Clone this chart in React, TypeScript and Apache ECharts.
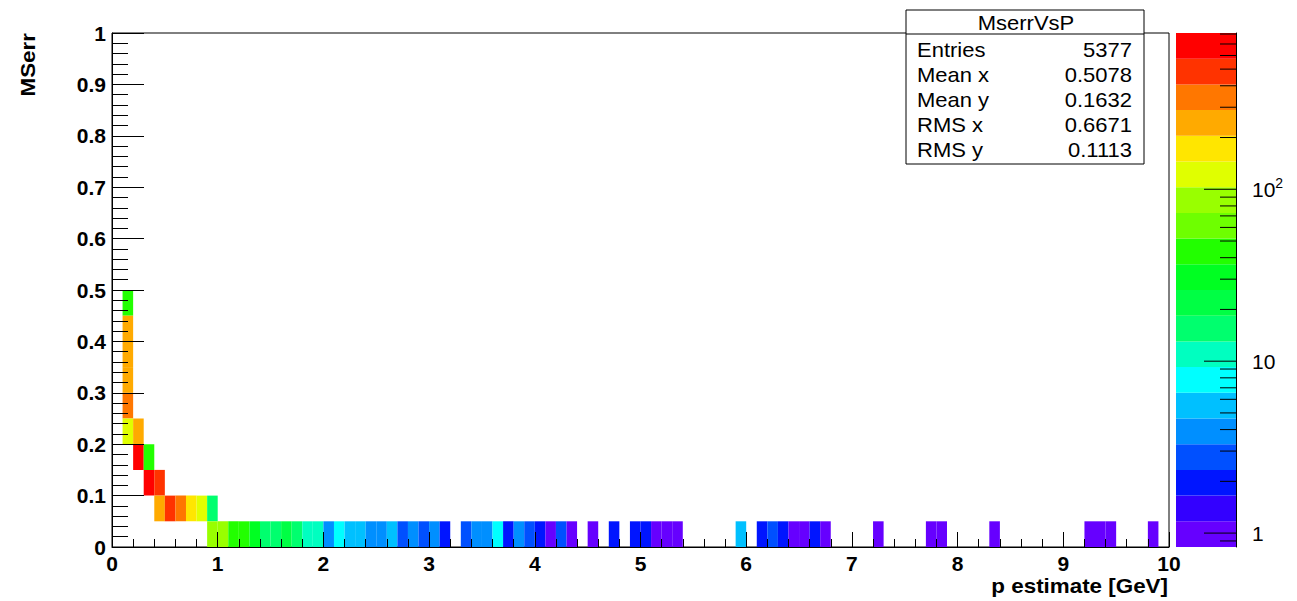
import React, { useEffect, useRef } from "react";
import * as echarts from "echarts";

// ---- Data (2D histogram MserrVsP: bin lower edges and bin contents) ----
const X_BIN_WIDTH = 0.1;
const Y_BIN_HEIGHT = 0.05;
const cellX: number[] = [
  0.1, 0.1, 0.1, 0.1, 0.1, 0.1, 0.2, 0.2, 0.3, 0.3, 0.4, 0.4, 0.5, 0.6, 0.7, 0.8, 0.9,
  0.9, 1.0, 1.1, 1.2, 1.3, 1.4, 1.5, 1.6, 1.7, 1.8, 1.9, 2.0, 2.1, 2.2, 2.3, 2.4, 2.5,
  2.6, 2.7, 2.8, 2.9, 3.0, 3.1, 3.3, 3.4, 3.5, 3.6, 3.7, 3.8, 3.9, 4.0, 4.1, 4.2, 4.3,
  4.5, 4.7, 4.9, 5.0, 5.1, 5.2, 5.3, 5.9, 6.1, 6.2, 6.3, 6.4, 6.5, 6.6, 6.7, 7.2, 7.7,
  7.8, 8.3, 9.2, 9.3, 9.4, 9.8,
];
const cellY: number[] = [
  0.45, 0.4, 0.35, 0.3, 0.25, 0.2, 0.2, 0.15, 0.15, 0.1, 0.1, 0.05, 0.05, 0.05, 0.05, 0.05, 0.05,
  0, 0, 0, 0, 0, 0, 0, 0, 0, 0, 0, 0, 0, 0, 0, 0, 0,
  0, 0, 0, 0, 0, 0, 0, 0, 0, 0, 0, 0, 0, 0, 0, 0, 0,
  0, 0, 0, 0, 0, 0, 0, 0, 0, 0, 0, 0, 0, 0, 0, 0, 0,
  0, 0, 0, 0, 0, 0,
];
const cellCount: number[] = [
  42, 260, 250, 245, 310, 120, 250, 720, 45, 780, 520, 250, 500, 370, 170, 118, 15,
  85, 80, 45, 40, 30, 16, 15, 20, 14, 11, 10, 4, 7, 5, 5, 4, 4,
  5, 3, 4, 3, 4, 2, 3, 4, 4, 7, 2, 4, 3, 2, 1, 3, 1,
  1, 2, 2, 2, 1, 1, 1, 5, 2, 3, 2, 1, 1, 2, 1, 1, 1,
  1, 1, 1, 1, 1, 1,
];

// z (colour) axis range, log scale
const Z_MIN = 0.83;
const Z_MAX = 811;
const Z_LOG_MIN = Math.log10(Z_MIN);
const Z_LOG_MAX = Math.log10(Z_MAX);
const Z_MAJOR = [0, 1, 2];
const Z_MINOR_VALUES = [0.9, 2, 3, 4, 5, 6, 7, 8, 9, 20, 30, 40, 50, 60, 70, 80, 90, 200, 300, 400, 500, 600, 700, 800];

const PALETTE = [
  "#6600ff", "#3300ff", "#0015ff", "#0050ff", "#008fff", "#00c0ff", "#00ffff",
  "#00ffc0", "#00ff6e", "#00ff44", "#00ff22", "#22ff00", "#6eff00", "#99ff00",
  "#e0ff00", "#ffe600", "#ffaa00", "#ff7700", "#ff3300", "#ff0000",
];

const STAT_TITLE = "MserrVsP";
const statLabels = ["Entries", "Mean x", "Mean y", "RMS x", "RMS y"];
const statValues = ["5377", "0.5078", "0.1632", "0.6671", "0.1113"];

const X_TITLE = "p estimate [GeV]";
const Y_TITLE = "MSerr";

const FONT = "Liberation Sans";

function bandOf(c: number): number {
  const t = (Math.log10(c) - Z_LOG_MIN) / (Z_LOG_MAX - Z_LOG_MIN);
  return Math.max(0, Math.min(PALETTE.length - 1, Math.floor(t * PALETTE.length)));
}

export default function App() {
  const ref = useRef<HTMLDivElement>(null);

  useEffect(() => {
    document.body.style.margin = "0";
    if (!ref.current) return;
    const chart = echarts.init(ref.current, null, { renderer: "svg" });

    const cells = cellX.map((x, i) => [x, cellY[i], cellCount[i]]);
    const step = (Z_LOG_MAX - Z_LOG_MIN) / PALETTE.length;
    const bands = PALETTE.map((_, i) => [0, Z_LOG_MIN + i * step, Z_LOG_MIN + (i + 1) * step, i]);
    const zTicks = [
      ...Z_MAJOR.map((v) => [1, v, 1]),
      ...Z_MINOR_VALUES.map((v) => [1, Math.log10(v), 0]),
    ];

    const axisLabelBold = {
      fontFamily: FONT,
      fontWeight: "bold" as const,
      fontSize: 21,
      color: "#000",
    };

    const statGraphics: any[] = [
      {
        type: "rect",
        shape: { x: 906, y: 10, width: 238, height: 154 },
        style: { fill: "#fff", stroke: "#000", lineWidth: 1 },
        z: 100,
      },
      {
        type: "line",
        shape: { x1: 906, y1: 34, x2: 1144, y2: 34 },
        style: { stroke: "#000", lineWidth: 1 },
        z: 101,
      },
      {
        type: "text",
        x: 1026,
        y: 23,
        scaleX: 1.1,
        style: {
          text: STAT_TITLE,
          fontFamily: FONT,
          fontSize: 20,
          fill: "#000",
          textAlign: "center",
          textVerticalAlign: "middle",
        },
        z: 101,
      },
    ];
    statLabels.forEach((lab, i) => {
      const y = 50 + i * 25;
      statGraphics.push({
        type: "text",
        x: 917,
        y,
        scaleX: 1.1,
        style: { text: lab, fontFamily: FONT, fontSize: 20, fill: "#000", textAlign: "left", textVerticalAlign: "middle" },
        z: 101,
      });
      statGraphics.push({
        type: "text",
        x: 1132,
        y,
        scaleX: 1.1,
        style: { text: statValues[i], fontFamily: FONT, fontSize: 20, fill: "#000", textAlign: "right", textVerticalAlign: "middle" },
        z: 101,
      });
    });

    const option: any = {
      animation: false,
      backgroundColor: "#fff",
      grid: [
        { left: 112, top: 33, width: 1057, height: 514, show: true, borderColor: "#000", borderWidth: 1, backgroundColor: "transparent" },
        { left: 1176, top: 33, width: 60, height: 514 },
      ],
      xAxis: [
        {
          gridIndex: 0,
          type: "value",
          min: 0,
          max: 10,
          interval: 1,
          z: 10,
          axisLine: { show: true, onZero: false, lineStyle: { color: "#000", width: 1 } },
          axisTick: { show: true, inside: true, length: 15, lineStyle: { color: "#000" } },
          minorTick: { show: true, splitNumber: 5, length: 8, lineStyle: { color: "#000" } },
          splitLine: { show: false },
          axisLabel: { ...axisLabelBold, margin: 6, showMinLabel: true, showMaxLabel: true },
        },
        { gridIndex: 1, type: "value", min: 0, max: 1, show: false, axisLine: { onZero: false } },
      ],
      yAxis: [
        {
          gridIndex: 0,
          type: "value",
          min: 0,
          max: 1,
          interval: 0.1,
          z: 10,
          axisLine: { show: true, onZero: false, lineStyle: { color: "#000", width: 1 } },
          axisTick: { show: true, inside: true, length: 32, lineStyle: { color: "#000" } },
          minorTick: { show: true, splitNumber: 5, length: 16, lineStyle: { color: "#000" } },
          splitLine: { show: false },
          axisLabel: { ...axisLabelBold, margin: 6, showMinLabel: true, showMaxLabel: true },
        },
        {
          gridIndex: 1,
          type: "value",
          position: "right",
          min: Z_LOG_MIN,
          max: Z_LOG_MAX,
          z: 10,
          axisLine: { show: true, onZero: false, lineStyle: { color: "#000", width: 1 } },
          axisTick: { show: false },
          splitLine: { show: false },
          axisLabel: {
            customValues: Z_MAJOR,
            margin: 16,
            fontFamily: FONT,
            fontSize: 21,
            color: "#000",
            formatter: (v: number) => {
              const p = Math.round(v);
              if (p === 0) return "1";
              if (p === 1) return "10";
              return "{b|10}{s|" + p + "}";
            },
            rich: {
              b: { fontFamily: FONT, fontSize: 21, color: "#000" },
              s: { fontFamily: FONT, fontSize: 14, color: "#000", padding: [0, 0, 12, 0] },
            },
          },
        },
      ],
      series: [
        {
          type: "custom",
          xAxisIndex: 0,
          yAxisIndex: 0,
          z: 1,
          data: cells,
          encode: { x: 0, y: 1 },
          renderItem: (params: any, api: any) => {
            const x0 = api.value(0);
            const y0 = api.value(1);
            const c = api.value(2);
            const p0 = api.coord([x0, y0]);
            const p1 = api.coord([x0 + X_BIN_WIDTH, y0 + Y_BIN_HEIGHT]);
            return {
              type: "rect",
              shape: { x: p0[0], y: p1[1], width: p1[0] - p0[0], height: p0[1] - p1[1] },
              style: { fill: PALETTE[bandOf(c)], stroke: null },
            };
          },
        },
        {
          type: "custom",
          xAxisIndex: 1,
          yAxisIndex: 1,
          z: 1,
          data: bands,
          encode: { x: 0, y: 1 },
          renderItem: (params: any, api: any) => {
            const lo = api.value(1);
            const hi = api.value(2);
            const idx = api.value(3);
            const p0 = api.coord([0, lo]);
            const p1 = api.coord([1, hi]);
            return {
              type: "rect",
              shape: { x: p0[0], y: p1[1], width: p1[0] - p0[0], height: p0[1] - p1[1] },
              style: { fill: PALETTE[idx], stroke: null },
            };
          },
        },
        {
          type: "custom",
          xAxisIndex: 1,
          yAxisIndex: 1,
          z: 3,
          data: zTicks,
          encode: { x: 0, y: 1 },
          renderItem: (params: any, api: any) => {
            const v = api.value(1);
            const major = api.value(2);
            const p = api.coord([1, v]);
            const len = major ? 32 : 16;
            return {
              type: "line",
              shape: { x1: p[0] - len, y1: p[1], x2: p[0], y2: p[1] },
              style: { stroke: "#000", lineWidth: 1 },
            };
          },
        },
      ],
      graphic: [
        {
          type: "text",
          x: 1168,
          y: 586,
          scaleX: 1.12,
          style: {
            text: X_TITLE,
            fontFamily: FONT,
            fontWeight: "bold",
            fontSize: 20,
            fill: "#000",
            textAlign: "right",
            textVerticalAlign: "middle",
          },
        },
        {
          type: "text",
          x: 28,
          y: 33,
          rotation: Math.PI / 2,
          scaleX: 1.12,
          style: {
            text: Y_TITLE,
            fontFamily: FONT,
            fontWeight: "bold",
            fontSize: 20,
            fill: "#000",
            textAlign: "right",
            textVerticalAlign: "middle",
          },
        },
        ...statGraphics,
      ],
    };

    chart.setOption(option);
    return () => chart.dispose();
  }, []);

  return <div ref={ref} style={{ width: 1297, height: 601 }} />;
}
